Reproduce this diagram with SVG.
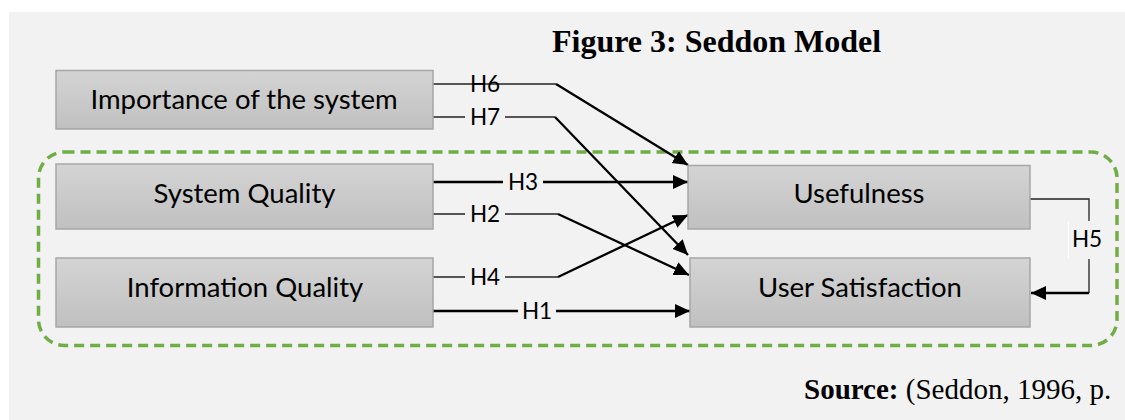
<svg xmlns="http://www.w3.org/2000/svg" width="1125" height="420" viewBox="0 0 1125 420">
<defs>
<linearGradient id="boxg" x1="0" y1="0" x2="0" y2="1">
<stop offset="0" stop-color="#d4d4d4"/>
<stop offset="1" stop-color="#c0c0c0"/>
</linearGradient>
<marker id="arr" markerUnits="userSpaceOnUse" markerWidth="16" markerHeight="15" refX="15" refY="7" orient="auto">
<path d="M0,0 L15,7 L0,14 z" fill="#000"/>
</marker>
<style>
.box{fill:url(#boxg);stroke:#a6a6a6;stroke-width:1.5}
.lbl{font-family:Lato,"Liberation Sans",sans-serif;font-size:27.5px;fill:#000;text-anchor:middle}
.h{font-family:Lato,"Liberation Sans",sans-serif;font-size:22.5px;fill:#000;text-anchor:middle}
.thin{fill:none;stroke:#222;stroke-width:1.3}
.diag{fill:none;stroke:#000;stroke-width:2.3}
.thick{fill:none;stroke:#000;stroke-width:2.6}
.bg{fill:#f2f2f2}
</style>
</defs>
<rect x="9" y="12" width="1116" height="408" fill="#f2f2f2"/>
<text x="552" y="52" font-family="Liberation Serif,serif" font-size="32" font-weight="bold" fill="#000">Figure 3: Seddon Model</text>
<rect x="38.5" y="152" width="1078.5" height="193.5" rx="26" fill="none" stroke="#70ad47" stroke-width="3.5" stroke-dasharray="10 6"/>
<g id="connectors">
<path class="thin" d="M433,84 H556"/>
<path class="diag" d="M556,84 L688,165" marker-end="url(#arr)"/>
<path class="thin" d="M433,117 H555"/>
<path class="diag" d="M555,117 L688,255" marker-end="url(#arr)"/>
<path class="thick" d="M433,182 H688" marker-end="url(#arr)"/>
<path class="thin" d="M433,214 H558"/>
<path class="diag" d="M558,214 L689,275" marker-end="url(#arr)"/>
<path class="thin" d="M433,277 H558" stroke="#444"/>
<path class="diag" d="M558,277 L688,215" marker-end="url(#arr)"/>
<path class="thick" d="M433,311 H690" marker-end="url(#arr)"/>
<path class="thin" d="M1030,199 H1089 V293"/>
<path class="diag" d="M1089,293 H1031" marker-end="url(#arr)"/>
<text class="h" x="485" y="92">H6</text>
<rect class="bg" x="465" y="105" width="40" height="26"/>
<text class="h" x="485" y="125">H7</text>
<rect class="bg" x="503" y="169" width="40" height="26"/>
<text class="h" x="523" y="190">H3</text>
<rect class="bg" x="465" y="201" width="40" height="26"/>
<text class="h" x="485" y="222">H2</text>
<rect class="bg" x="465" y="264" width="40" height="26"/>
<text class="h" x="485" y="285">H4</text>
<rect class="bg" x="518" y="298" width="38" height="26"/>
<text class="h" x="537" y="319">H1</text>
<rect class="bg" x="1068" y="221" width="40" height="38"/>
<line x1="1068.5" y1="221" x2="1068.5" y2="259" stroke="#fff" stroke-width="1"/>
<text class="h" x="1087" y="247">H5</text>
</g>
<g id="importance">
<rect class="box" x="56" y="70.5" width="377" height="58.5"/>
<text class="lbl" x="244" y="109">Importance of the system</text>
</g>
<g id="system-quality">
<rect class="box" x="56" y="164" width="377" height="65"/>
<text class="lbl" x="244.5" y="203">System Quality</text>
</g>
<g id="information-quality">
<rect class="box" x="56" y="258" width="377" height="69"/>
<text class="lbl" x="245" y="297">Information Quality</text>
</g>
<g id="usefulness">
<rect class="box" x="688" y="165.5" width="342" height="63.5"/>
<text class="lbl" x="859" y="203">Usefulness</text>
</g>
<g id="user-satisfaction">
<rect class="box" x="690" y="258" width="340" height="69"/>
<text class="lbl" x="860" y="297">User Satisfaction</text>
</g>
<text x="804" y="399" font-family="Liberation Serif,serif" font-size="29" fill="#000"><tspan font-weight="bold">Source:</tspan> (Seddon, 1996, p.</text>
</svg>
